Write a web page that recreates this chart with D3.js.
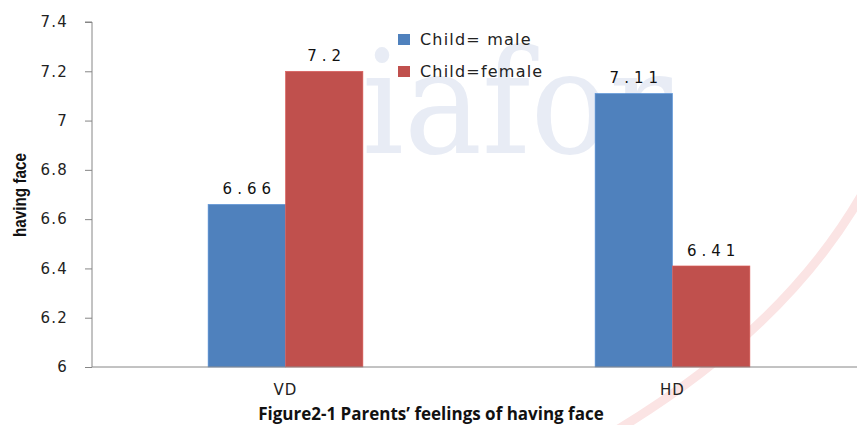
<!DOCTYPE html>
<html>
<head>
<meta charset="utf-8">
<script src="https://cdn.jsdelivr.net/npm/d3@7"></script>
<style>
  body { margin: 0; background: #fff; }
  svg { display: block; }
</style>
</head>
<body>
<div id="chart"></div>
<script>
var categories = ['VD', 'HD'];
var series = ['Child= male', 'Child=female'];
var maleValues = [6.66, 7.11];
var femaleValues = [7.2, 6.41];
var yTicks = [6, 6.2, 6.4, 6.6, 6.8, 7, 7.2, 7.4];
var colors = ['#4F81BD', '#C0504D'];

var width = 857, height = 425;
var margin = ({top: 22, right: -9, bottom: 58, left: 92});

var rows = categories.map((c, i) => ({
  cat: c,
  vals: [{s: series[0], v: maleValues[i]}, {s: series[1], v: femaleValues[i]}]
}));

var x0 = d3.scaleBand().domain(categories)
    .range([margin.left, width - margin.right]).paddingInner(0).paddingOuter(0);
var x1 = d3.scaleBand().domain(series)
    .range([0, x0.bandwidth()]).paddingInner(0).paddingOuter(1.5);
var y = d3.scaleLinear().domain([6, 7.4]).range([height - margin.bottom, margin.top]);
var color = d3.scaleOrdinal().domain(series).range(colors);

function drawChart() {
  const svg = d3.select('#chart').append('svg')
      .attr('width', width)
      .attr('height', height);

  // watermark behind the chart
  svg.append('text')
     .attr('x', 362).attr('y', 153)
     .attr('font-family', 'DejaVu Serif, Liberation Serif, serif')
     .attr('font-size', 145)
     .attr('textLength', 310)
     .attr('lengthAdjust', 'spacingAndGlyphs')
     .attr('fill', '#e8ecf5')
     .text('iafor');
  svg.append('path')
     .attr('d', 'M 600 440 Q 790 330 870 180')
     .attr('fill', 'none')
     .attr('stroke', '#fbe4e4')
     .attr('stroke-width', 9);

  // y axis
  const yAxis = svg.append('g')
      .attr('transform', `translate(${margin.left},0)`)
      .call(d3.axisLeft(y).tickValues(yTicks).tickSize(7).tickPadding(17)
        .tickFormat(d => d3.format('')(+d.toFixed(1))));
  yAxis.select('.domain').attr('stroke', '#868686').attr('d', `M-7,${y(7.4)}H0V${y(6)}`);
  yAxis.selectAll('.tick line').attr('stroke', '#868686');
  yAxis.selectAll('.tick text')
      .attr('font-family', 'DejaVu Sans, Verdana, sans-serif')
      .attr('font-size', 15)
      .attr('letter-spacing', 1.2)
      .attr('fill', '#222');

  // bars
  const groups = svg.append('g').selectAll('g')
    .data(rows)
    .join('g')
      .attr('transform', d => `translate(${x0(d.cat)},0)`);

  groups.selectAll('rect')
    .data(d => d.vals)
    .join('rect')
      .attr('x', d => x1(d.s))
      .attr('y', d => y(d.v))
      .attr('width', x1.bandwidth())
      .attr('height', d => y(6) - y(d.v))
      .attr('fill', d => color(d.s))
      .attr('stroke', d => d3.color(color(d.s)).brighter(0.4))
      .attr('stroke-width', 0.6);

  groups.selectAll('text.val')
    .data(d => d.vals)
    .join('text')
      .attr('class', 'val')
      .attr('x', d => x1(d.s) + x1.bandwidth() / 2 + 2.5)
      .attr('y', d => y(d.v) - 10)
      .attr('text-anchor', 'middle')
      .attr('font-family', 'DejaVu Sans, Verdana, sans-serif')
      .attr('font-size', 15)
      .attr('letter-spacing', 5)
      .attr('fill', '#111')
      .text(d => d.v);

  // x axis
  svg.append('line')
     .attr('x1', margin.left).attr('x2', width)
     .attr('y1', y(6)).attr('y2', y(6))
     .attr('stroke', '#868686');

  svg.append('g').selectAll('text')
    .data(categories)
    .join('text')
      .attr('x', d => x0(d) + x0.bandwidth() / 2)
      .attr('y', 395)
      .attr('text-anchor', 'middle')
      .attr('font-family', 'DejaVu Sans, Verdana, sans-serif')
      .attr('font-size', 15)
      .attr('letter-spacing', 1)
      .attr('fill', '#222')
      .text(d => d);

  // legend
  const legend = svg.append('g').selectAll('g')
    .data(series)
    .join('g')
      .attr('transform', (d, i) => `translate(398,${34 + i * 32})`);
  legend.append('rect')
      .attr('width', 12).attr('height', 11)
      .attr('fill', d => color(d));
  legend.append('text')
      .attr('x', 22).attr('y', 11)
      .attr('font-family', 'DejaVu Sans, Verdana, sans-serif')
      .attr('font-size', 16)
      .attr('letter-spacing', 1.2)
      .attr('fill', '#222')
      .text(d => d);

  // y axis title
  svg.append('text')
     .attr('transform', 'translate(26,195) rotate(-90)')
     .attr('text-anchor', 'middle')
     .attr('font-family', 'Liberation Sans Narrow, Liberation Sans, sans-serif')
     .attr('font-weight', 'bold')
     .attr('font-size', 18)
     .attr('textLength', 84)
     .attr('lengthAdjust', 'spacingAndGlyphs')
     .attr('fill', '#111')
     .text('having face');

  // chart title
  svg.append('text')
     .attr('x', 431).attr('y', 420)
     .attr('text-anchor', 'middle')
     .attr('font-family', 'Open Sans, Lato, sans-serif')
     .attr('font-weight', 'bold')
     .attr('font-size', 17)
     .attr('fill', '#111')
     .text('Figure2-1 Parents\u2019 feelings of having face');
}

window.onload = drawChart;
</script>
</body>
</html>
